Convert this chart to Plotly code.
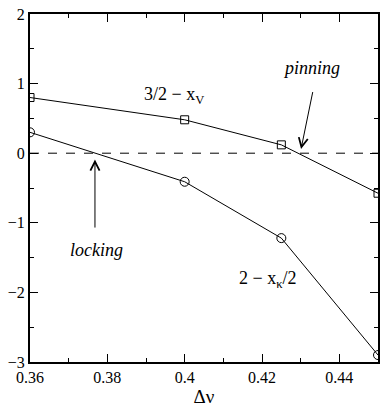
import plotly.graph_objects as go

dnu = [0.36, 0.40, 0.425, 0.45]
sq_vals = [0.80, 0.48, 0.12, -0.575]
circ_vals = [0.30, -0.41, -1.22, -2.90]
x_ticks = [0.36, 0.38, 0.40, 0.42, 0.44]
x_tick_text = ["0.36", "0.38", "0.4", "0.42", "0.44"]
y_ticks = [-3, -2, -1, 0, 1, 2]

FONT = "Liberation Serif"

fig = go.Figure()
fig.add_trace(go.Scatter(x=[0.36, 0.45], y=[0, 0], mode="lines",
                         line=dict(color="black", width=1, dash="dash"), hoverinfo="skip"))
fig.add_trace(go.Scatter(x=dnu, y=sq_vals, mode="lines+markers",
                         line=dict(color="black", width=1),
                         marker=dict(symbol="square-open", size=8, color="black", line=dict(width=1))))
fig.add_trace(go.Scatter(x=dnu, y=circ_vals, mode="lines+markers",
                         line=dict(color="black", width=1),
                         marker=dict(symbol="circle-open", size=9, color="black", line=dict(width=1))))

ann = [
    dict(x=0.3973, y=0.83, text="3/2 − x<sub>V</sub>", showarrow=False, font=dict(size=18)),
    dict(x=0.4216, y=-1.82, text="2 − x<sub>κ</sub>/2", showarrow=False, font=dict(size=18)),
    dict(x=0.4327, y=1.23, text="<i>pinning</i>", showarrow=False, font=dict(size=18)),
    dict(x=0.3773, y=-1.39, text="<i>locking</i>", showarrow=False, font=dict(size=18)),
    dict(x=0.4301, y=0.06, ax=0.4332, ay=0.90, axref="x", ayref="y", xref="x", yref="y",
         showarrow=True, arrowhead=5, arrowsize=1.8, arrowwidth=1, arrowcolor="black", text=""),
    dict(x=0.3768, y=-0.09, ax=0.3768, ay=-1.09, axref="x", ayref="y", xref="x", yref="y",
         showarrow=True, arrowhead=5, arrowsize=1.8, arrowwidth=1, arrowcolor="black", text=""),
]

fig.update_layout(
    width=380, height=407,
    margin=dict(l=30, r=2, t=14, b=45),
    paper_bgcolor="white", plot_bgcolor="white",
    showlegend=False,
    font=dict(family=FONT, size=16, color="black"),
    annotations=ann,
    xaxis=dict(range=[0.36, 0.45], tickvals=x_ticks, ticktext=x_tick_text,
               ticks="inside", ticklen=8, tickwidth=1, tickcolor="black",
               showline=True, linecolor="black", linewidth=2, mirror="ticks",
               showgrid=False, zeroline=False, automargin=False,
               minor=dict(ticks="inside", ticklen=4, dtick=0.01, tick0=0.36, tickcolor="black", showgrid=False),
               title=dict(text="Δν", font=dict(size=19), standoff=0),
               tickfont=dict(size=16)),
    yaxis=dict(range=[-3, 2], tickvals=y_ticks,
               ticks="inside", ticklen=8, tickwidth=1, tickcolor="black",
               showline=True, linecolor="black", linewidth=2, mirror="ticks",
               showgrid=False, zeroline=False, automargin=False,
               minor=dict(ticks="inside", ticklen=4, dtick=0.5, tick0=0, tickcolor="black", showgrid=False),
               tickfont=dict(size=16)),
)

fig.write_html("out.html", config={"displayModeBar": False},
               post_script="document.body.style.margin='0';")
